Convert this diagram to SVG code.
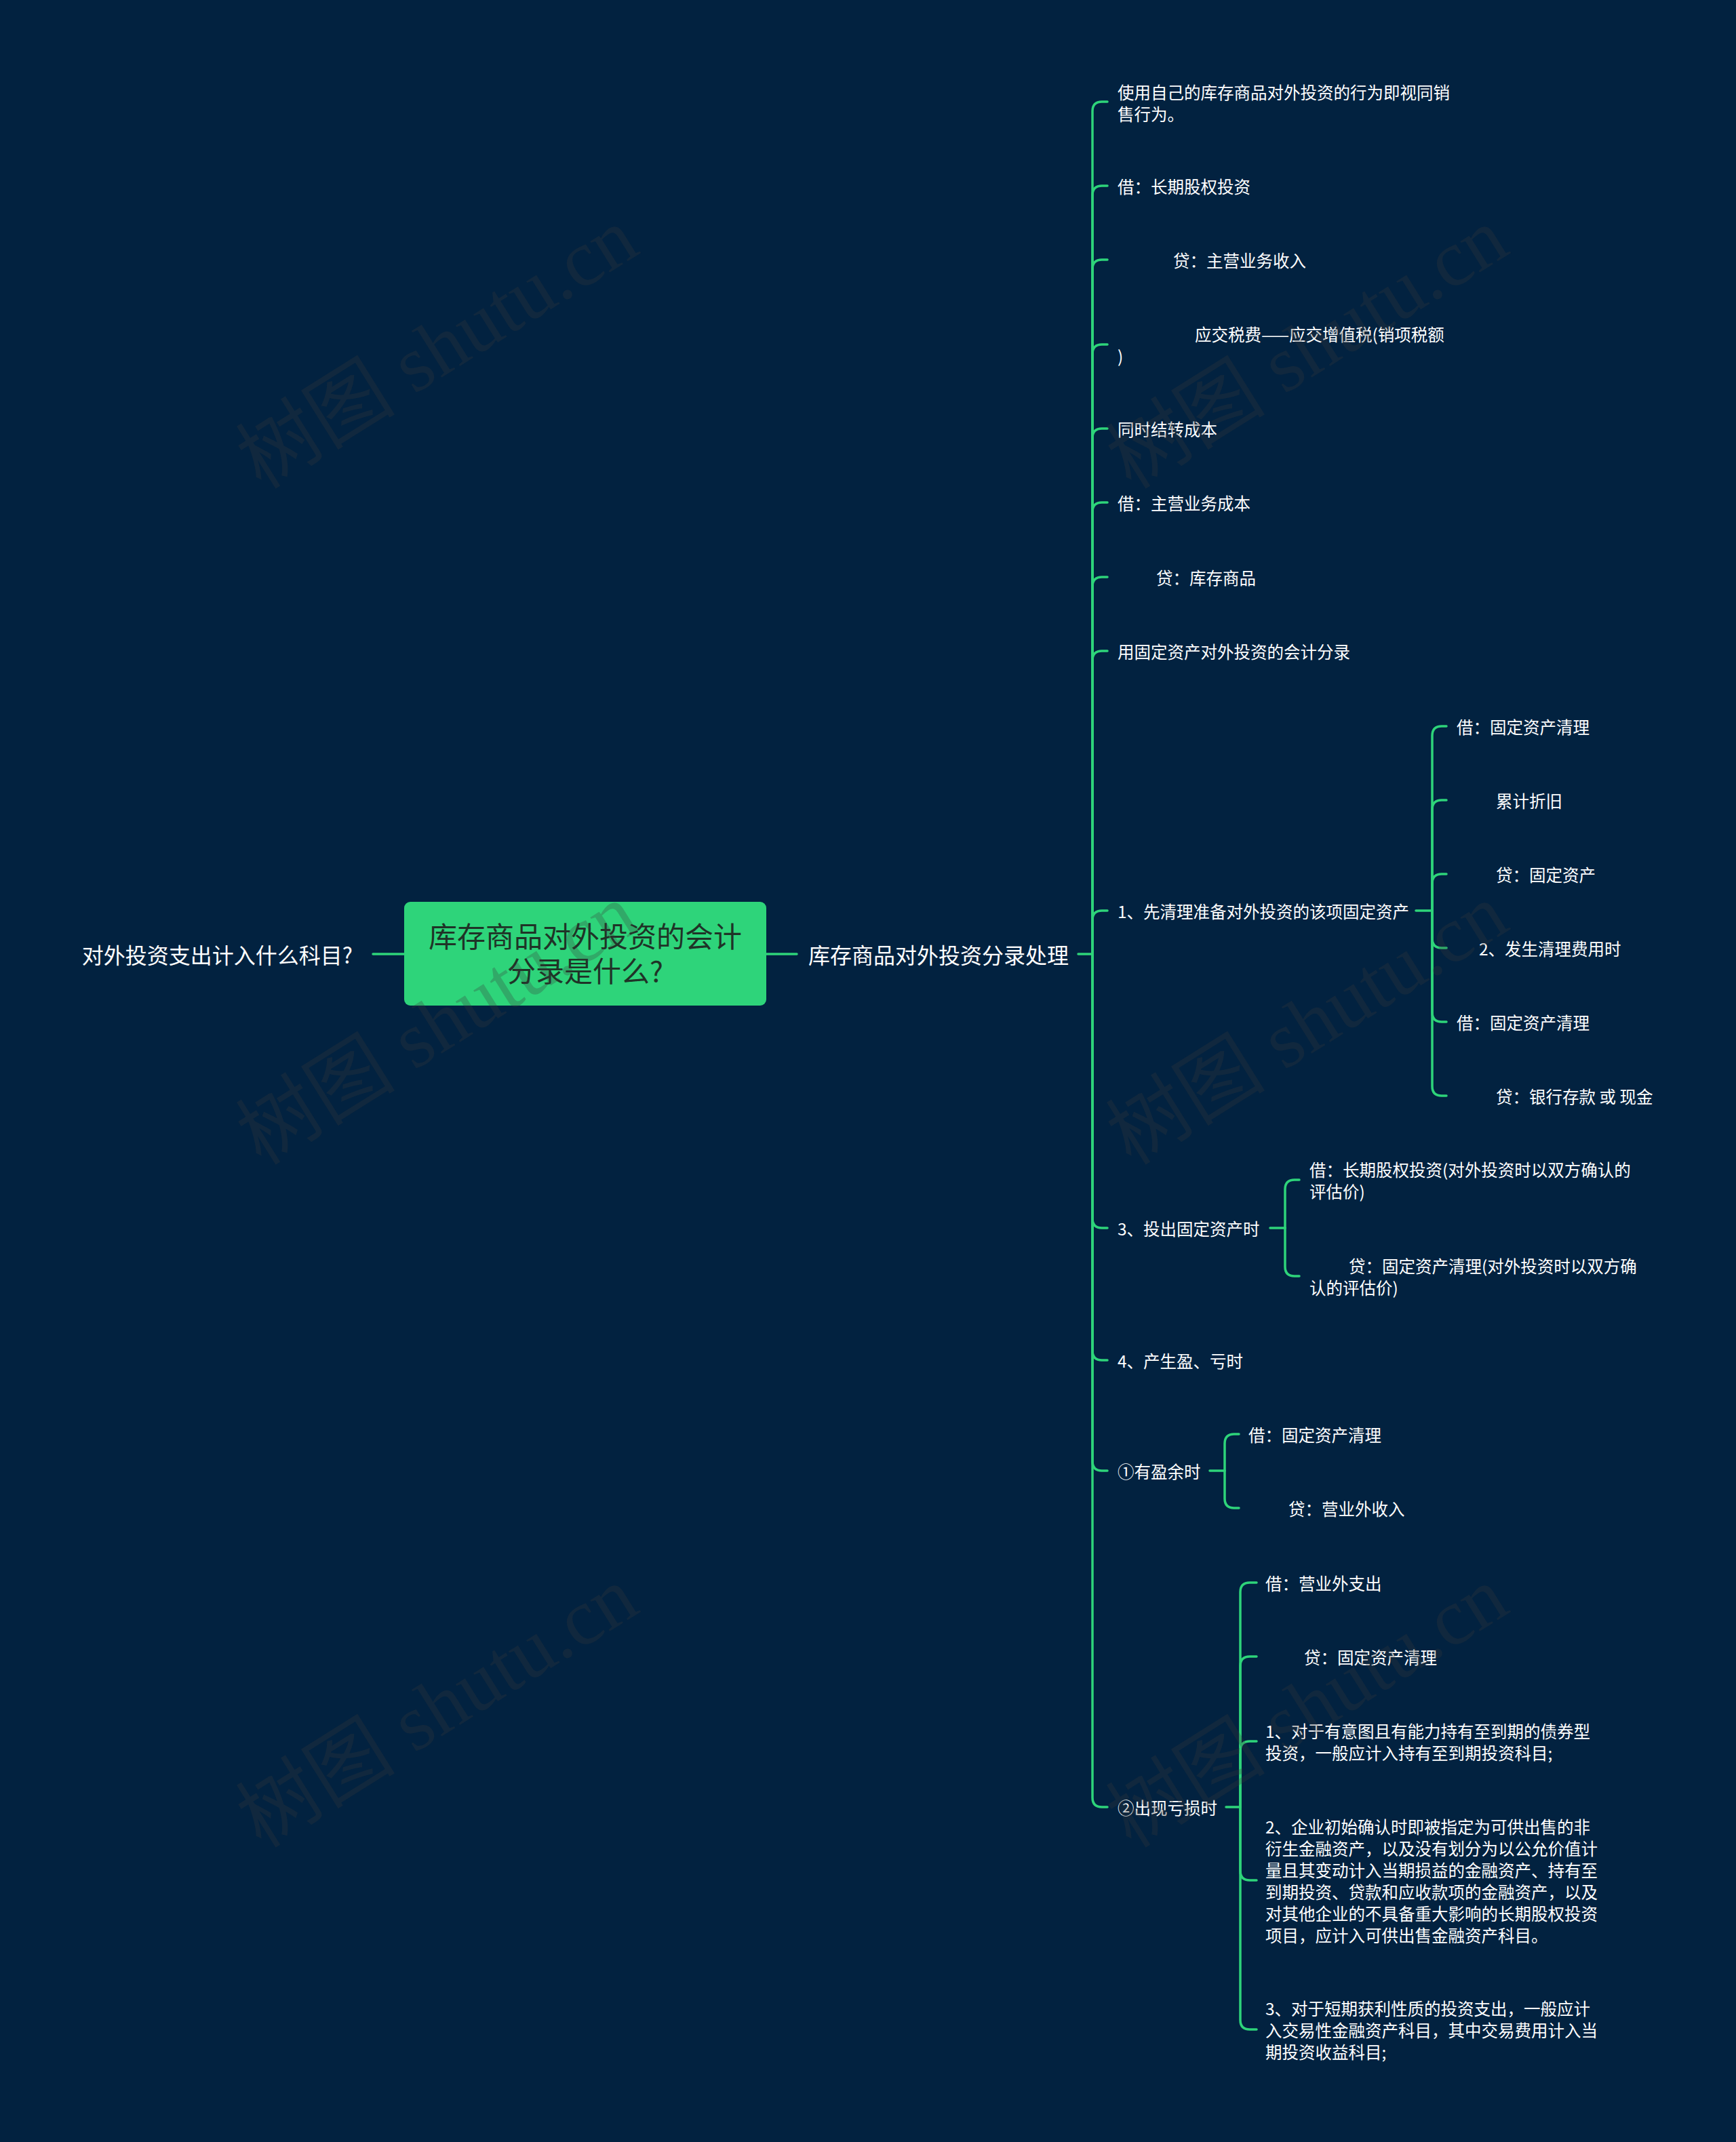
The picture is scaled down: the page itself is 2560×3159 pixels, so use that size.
<svg xmlns="http://www.w3.org/2000/svg" width="2560" height="3159" viewBox="0 0 2560 3159">
<style>
.bg{fill:#022240}
.wm{font-family:"Liberation Serif","Noto Sans CJK SC",serif;font-size:118px;fill:#3a3a3a;fill-opacity:0.28;text-anchor:middle;dominant-baseline:central}
.ln{fill:none;stroke:#2ed47a;stroke-width:3.5;stroke-linecap:round;stroke-linejoin:round}
.t{font-family:"Noto Sans CJK SC","Noto Sans",sans-serif;font-size:24.5px;fill:#ffffff;dominant-baseline:central}
.t1{font-family:"Noto Sans CJK SC","Noto Sans",sans-serif;font-size:32px;fill:#ffffff;dominant-baseline:central}
.rt{font-family:"Noto Sans CJK SC","Noto Sans",sans-serif;font-size:42px;fill:#1f3327;dominant-baseline:central;text-anchor:middle}
.rootbox{fill:#2ed47a}
</style>
<rect class="bg" x="0" y="0" width="2560" height="3159"/>

<g id="connectors">
<path class="ln" d="M550,1407 L596,1407"/>
<path class="ln" d="M1130,1407 L1175,1407"/>
<path class="ln" d="M1590,1407 L1611,1407"/>
<path class="ln" d="M1611,1407 L1611,164 Q1611,150 1625,150 L1633,150"/>
<path class="ln" d="M1611,1407 L1611,288 Q1611,274 1625,274 L1633,274"/>
<path class="ln" d="M1611,1407 L1611,397 Q1611,383 1625,383 L1633,383"/>
<path class="ln" d="M1611,1407 L1611,522 Q1611,508 1625,508 L1633,508"/>
<path class="ln" d="M1611,1407 L1611,646 Q1611,632 1625,632 L1633,632"/>
<path class="ln" d="M1611,1407 L1611,755 Q1611,741 1625,741 L1633,741"/>
<path class="ln" d="M1611,1407 L1611,865 Q1611,851 1625,851 L1633,851"/>
<path class="ln" d="M1611,1407 L1611,974 Q1611,960 1625,960 L1633,960"/>
<path class="ln" d="M1611,1407 L1611,1357 Q1611,1343 1625,1343 L1633,1343"/>
<path class="ln" d="M1611,1407 L1611,1797 Q1611,1811 1625,1811 L1633,1811"/>
<path class="ln" d="M1611,1407 L1611,1992 Q1611,2006 1625,2006 L1633,2006"/>
<path class="ln" d="M1611,1407 L1611,2155 Q1611,2169 1625,2169 L1633,2169"/>
<path class="ln" d="M1611,1407 L1611,2651 Q1611,2665 1625,2665 L1633,2665"/>

<path class="ln" d="M2088,1343 L2112,1343"/>
<path class="ln" d="M2112,1343 L2112,1085 Q2112,1071 2126,1071 L2133,1071"/>
<path class="ln" d="M2112,1343 L2112,1194 Q2112,1180 2126,1180 L2133,1180"/>
<path class="ln" d="M2112,1343 L2112,1303 Q2112,1289 2126,1289 L2133,1289"/>
<path class="ln" d="M2112,1343 L2112,1384 Q2112,1398 2126,1398 L2133,1398"/>
<path class="ln" d="M2112,1343 L2112,1493 Q2112,1507 2126,1507 L2133,1507"/>
<path class="ln" d="M2112,1343 L2112,1602 Q2112,1616 2126,1616 L2133,1616"/>

<path class="ln" d="M1873,1811 L1895,1811"/>
<path class="ln" d="M1895,1811 L1895,1754 Q1895,1740 1909,1740 L1916,1740"/>
<path class="ln" d="M1895,1811 L1895,1868 Q1895,1882 1909,1882 L1916,1882"/>

<path class="ln" d="M1784,2169 L1806,2169"/>
<path class="ln" d="M1806,2169 L1806,2129 Q1806,2115 1820,2115 L1827,2115"/>
<path class="ln" d="M1806,2169 L1806,2210 Q1806,2224 1820,2224 L1827,2224"/>

<path class="ln" d="M1808,2665 L1829,2665"/>
<path class="ln" d="M1829,2665 L1829,2348 Q1829,2334 1843,2334 L1853,2334"/>
<path class="ln" d="M1829,2665 L1829,2457 Q1829,2443 1843,2443 L1853,2443"/>
<path class="ln" d="M1829,2665 L1829,2582 Q1829,2568 1843,2568 L1853,2568"/>
<path class="ln" d="M1829,2665 L1829,2759 Q1829,2773 1843,2773 L1853,2773"/>
<path class="ln" d="M1829,2665 L1829,2979 Q1829,2993 1843,2993 L1853,2993"/>
</g>

<g id="root">
<rect class="rootbox" x="596" y="1330" width="534" height="153" rx="9" ry="9"/>
<text class="rt"><tspan x="863" y="1378">库存商品对外投资的会计</tspan><tspan x="863" y="1429">分录是什么?</tspan></text>
</g>

<g id="left-topic">
<text class="t1" x="520" y="1407" text-anchor="end">对外投资支出计入什么科目?</text>
</g>

<g id="main-branch">
<text class="t1" x="1192" y="1407">库存商品对外投资分录处理</text>
</g>

<g id="n1"><text class="t" x="1648" y="135">使用自己的库存商品对外投资的行为即视同销</text><text class="t" x="1648" y="167">售行为。</text></g>
<g id="n2"><text class="t" x="1648" y="274">借：长期股权投资</text></g>
<g id="n3"><text class="t" x="1730" y="383">贷：主营业务收入</text></g>
<g id="n4"><text class="t" x="1762" y="492">应交税费——应交增值税(销项税额</text><text class="t" x="1648" y="524">)</text></g>
<g id="n5"><text class="t" x="1648" y="632">同时结转成本</text></g>
<g id="n6"><text class="t" x="1648" y="741">借：主营业务成本</text></g>
<g id="n7"><text class="t" x="1705" y="851">贷：库存商品</text></g>
<g id="n8"><text class="t" x="1648" y="960">用固定资产对外投资的会计分录</text></g>

<g id="n9"><text class="t" x="1648" y="1343">1、先清理准备对外投资的该项固定资产</text></g>
<g id="n9-1"><text class="t" x="2148" y="1071">借：固定资产清理</text></g>
<g id="n9-2"><text class="t" x="2206" y="1180">累计折旧</text></g>
<g id="n9-3"><text class="t" x="2206" y="1289">贷：固定资产</text></g>
<g id="n9-4"><text class="t" x="2181" y="1398">2、发生清理费用时</text></g>
<g id="n9-5"><text class="t" x="2148" y="1507">借：固定资产清理</text></g>
<g id="n9-6"><text class="t" x="2206" y="1616">贷：银行存款 或 现金</text></g>

<g id="n10"><text class="t" x="1648" y="1811">3、投出固定资产时</text></g>
<g id="n10-1"><text class="t" x="1931" y="1724">借：长期股权投资(对外投资时以双方确认的</text><text class="t" x="1931" y="1756">评估价)</text></g>
<g id="n10-2"><text class="t" x="1989" y="1866">贷：固定资产清理(对外投资时以双方确</text><text class="t" x="1931" y="1898">认的评估价)</text></g>

<g id="n11"><text class="t" x="1648" y="2006">4、产生盈、亏时</text></g>

<g id="n12"><text class="t" x="1648" y="2169">①有盈余时</text></g>
<g id="n12-1"><text class="t" x="1841" y="2115">借：固定资产清理</text></g>
<g id="n12-2"><text class="t" x="1900" y="2224">贷：营业外收入</text></g>

<g id="n13"><text class="t" x="1648" y="2665">②出现亏损时</text></g>
<g id="n13-1"><text class="t" x="1866" y="2334">借：营业外支出</text></g>
<g id="n13-2"><text class="t" x="1923" y="2443">贷：固定资产清理</text></g>
<g id="n13-3"><text class="t" x="1866" y="2552">1、对于有意图且有能力持有至到期的债券型</text><text class="t" x="1866" y="2584">投资，一般应计入持有至到期投资科目;</text></g>
<g id="n13-4">
<text class="t" x="1866" y="2693">2、企业初始确认时即被指定为可供出售的非</text>
<text class="t" x="1866" y="2725">衍生金融资产，以及没有划分为以公允价值计</text>
<text class="t" x="1866" y="2757">量且其变动计入当期损益的金融资产、持有至</text>
<text class="t" x="1866" y="2789">到期投资、贷款和应收款项的金融资产，以及</text>
<text class="t" x="1866" y="2821">对其他企业的不具备重大影响的长期股权投资</text>
<text class="t" x="1866" y="2853">项目，应计入可供出售金融资产科目。</text>
</g>
<g id="n13-5">
<text class="t" x="1866" y="2961">3、对于短期获利性质的投资支出，一般应计</text>
<text class="t" x="1866" y="2993">入交易性金融资产科目，其中交易费用计入当</text>
<text class="t" x="1866" y="3025">期投资收益科目;</text>
</g>

<g id="watermarks">
<text class="wm" transform="translate(645,514) rotate(-32)">树图 shutu.cn</text>
<text class="wm" transform="translate(1928,514) rotate(-32)">树图 shutu.cn</text>
<text class="wm" transform="translate(645,1511) rotate(-32)">树图 shutu.cn</text>
<text class="wm" transform="translate(1928,1511) rotate(-32)">树图 shutu.cn</text>
<text class="wm" transform="translate(645,2518) rotate(-32)">树图 shutu.cn</text>
<text class="wm" transform="translate(1928,2518) rotate(-32)">树图 shutu.cn</text>
</g>
</svg>
